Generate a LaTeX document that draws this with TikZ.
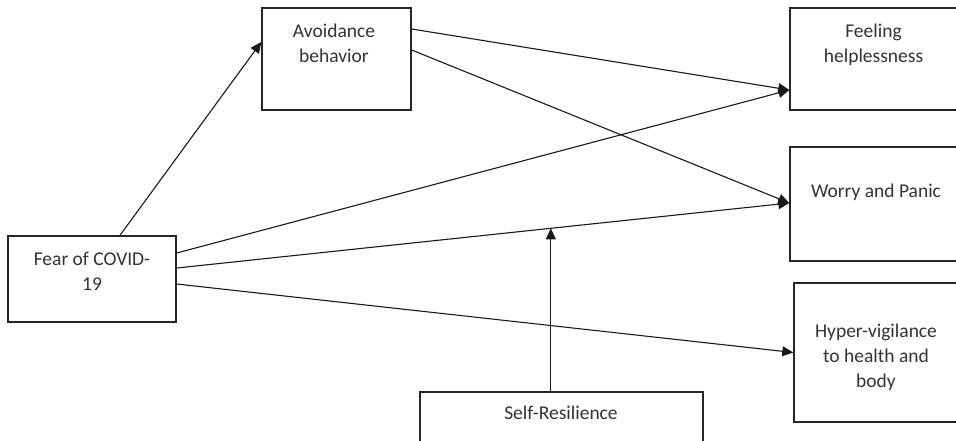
\documentclass[tikz,border=0pt]{standalone}
\usepackage{fontspec}
\setmainfont{Carlito}
\usetikzlibrary{arrows.meta,calc}

\tikzset{
    box/.style={draw=black!85, line width=1.4pt, rectangle, inner sep=0pt},
    lbl/.style={inner sep=0pt, align=center, text=black!80,
        font=\fontsize{19.5}{25}\selectfont},
    path/.style={draw=black!90, line width=1.1pt,
        -{Triangle[length=11pt,width=10pt]}}
}

\begin{document}
\begin{tikzpicture}[x=1pt, y=-1pt]
    \useasboundingbox (0,0) rectangle (956,441);
    \clip (0,0) rectangle (956,441);
    % boxes
    \node[box, minimum width=168pt, minimum height=86pt] (fear) at (92,279) {};
    \node[box, minimum width=149pt, minimum height=102pt] (avoid) at (336.5,59) {};
    \node[box, minimum width=168pt, minimum height=102pt] (feel) at (874,59) {};
    \node[box, minimum width=168pt, minimum height=114pt] (worry) at (874,204) {};
    \node[box, minimum width=164pt, minimum height=139pt] (hyper) at (876,352.5) {};
    \node[box, minimum width=283pt, minimum height=78pt] (resil) at (561.5,431) {};
    % texts
    \node[lbl, anchor=north] (feartxt) at (92,251.5) {Fear of COVID-\\19};
    \node[lbl, anchor=north] (avoidtxt) at (334,23.5) {Avoidance\\behavior};
    \node[lbl, anchor=north] (feeltxt) at (873.5,23.5) {Feeling\\helplessness};
    \node[lbl, anchor=north] (worrytxt) at (876,183.5) {Worry and Panic};
    \node[lbl, anchor=north] (hypertxt) at (876,323.5) {Hyper-vigilance\\to health and\\body};
    \node[lbl, anchor=north] (resiltxt) at (561,405.5) {Self-Resilience};
    % paths
    \draw[path] ([xshift=28pt]fear.north) -- ([yshift=17pt]avoid.west);
    \draw[path] ([yshift=30pt]avoid.east) -- ([yshift=-31pt]feel.west);
    \draw[path] ([yshift=9pt]avoid.east) -- ([yshift=1pt]worry.west);
    \draw[path] ([yshift=26pt]fear.east) -- ([yshift=-31pt]feel.west);
    \draw[path] ([yshift=11pt]fear.east) -- ([yshift=1pt]worry.west);
    \draw[path] ([yshift=-5pt]fear.east) -- (hyper.west);
    % moderation
    \coordinate (mod) at ($([yshift=11pt]fear.east)!0.6107!([yshift=1pt]worry.west)$);
    \draw[path] (mod |- resil.north) -- (mod);
\end{tikzpicture}
\end{document}
